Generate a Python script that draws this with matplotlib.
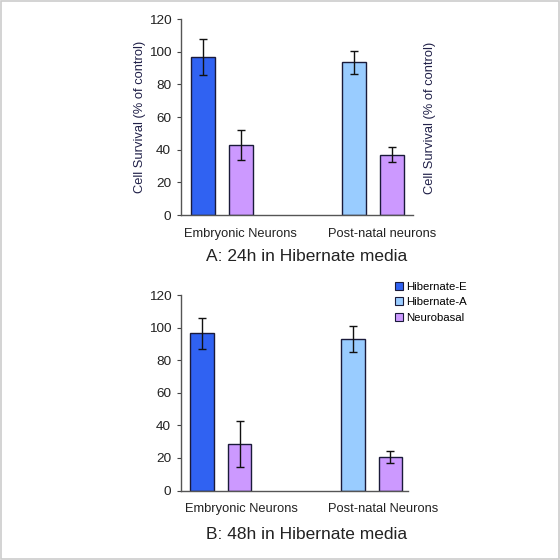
import matplotlib
matplotlib.use("Agg")
import matplotlib.pyplot as plt
from matplotlib.patches import Patch

plt.rcParams["font.family"] = ["Liberation Sans", "DejaVu Sans"]

# -------- data --------
SERIES = ["Hibernate-E", "Hibernate-A", "Neurobasal"]
COLORS = ["#3062F2", "#99CCFF", "#CC99FF"]

# panel A: 24h
A_GROUPS = ["Embryonic Neurons", "Post-natal neurons"]
A_SERIES = [["Hibernate-E", "Neurobasal"], ["Hibernate-A", "Neurobasal"]]
A_VALUES = [[97, 43], [93.5, 37]]
A_ERRORS = [[11, 9], [7, 4.5]]

# panel B: 48h
B_GROUPS = ["Embryonic Neurons", "Post-natal Neurons"]
B_SERIES = [["Hibernate-E", "Neurobasal"], ["Hibernate-A", "Neurobasal"]]
B_VALUES = [[96.5, 28.5], [93, 20.5]]
B_ERRORS = [[9.7, 14.3], [8, 3.6]]

YTICKS = [0, 20, 40, 60, 80, 100, 120]

# -------- layout --------
BAR_W = 0.157
PAIR_STEP = 0.25
EDGE = "#1a1a3a"
TXT = "#222222"
YLAB = "#202048"


def draw_panel(ax, groups, series, values, errors, label_pos, xlim):
    for g, name in enumerate(groups):
        for i, s in enumerate(series[g]):
            x = g + (i - 0.5) * PAIR_STEP
            ax.bar(x, values[g][i], width=BAR_W,
                   color=COLORS[SERIES.index(s)], edgecolor=EDGE, linewidth=1.0,
                   yerr=errors[g][i], capsize=3,
                   error_kw=dict(ecolor="#111111", elinewidth=1.0, capthick=1.0),
                   zorder=2)
    ax.set_xlim(*xlim)
    ax.set_ylim(0, 120)
    ax.set_yticks(YTICKS)
    ax.set_xticks(label_pos)
    ax.set_xticklabels(groups, fontsize=9.3, color=TXT)
    ax.tick_params(axis="x", length=0, pad=9)
    ax.tick_params(axis="y", length=3, width=0.8, color="#444444",
                   labelsize=9.7, labelcolor=TXT, pad=4)
    for side in ["top", "right"]:
        ax.spines[side].set_visible(False)
    for side in ["left", "bottom"]:
        ax.spines[side].set_color("#555555")
        ax.spines[side].set_linewidth(1.0)
    ax.spines["left"].set_bounds(0, 120)


fig = plt.figure(figsize=(5.6, 5.6), dpi=100)

# light frame round the picture
fig.patches.append(plt.Rectangle((0.002, 0.002), 0.996, 0.996, transform=fig.transFigure,
                                 fill=False, edgecolor="#cccccc", linewidth=1.2))

axA = fig.add_axes([0.323, 0.616, 0.414, 0.350])
draw_panel(axA, A_GROUPS, A_SERIES, A_VALUES, A_ERRORS, [0.12, 1.06], (-0.27, 1.26))
axA.set_ylabel("Cell Survival (% of control)", fontsize=9.3, color=YLAB, labelpad=2)
fig.text(0.767, 0.79, "Cell Survival (% of control)", rotation=90, fontsize=9.3,
         color=YLAB, ha="center", va="center")
fig.text(0.547, 0.542, "A: 24h in Hibernate media", fontsize=12.5, color=TXT,
         ha="center", va="center")

axB = fig.add_axes([0.323, 0.124, 0.405, 0.349])
draw_panel(axB, B_GROUPS, B_SERIES, B_VALUES, B_ERRORS, [0.14, 1.08], (-0.265, 1.24))
fig.text(0.547, 0.045, "B: 48h in Hibernate media", fontsize=12.5, color=TXT,
         ha="center", va="center")

handles = [Patch(facecolor=c, edgecolor=EDGE, linewidth=0.8) for c in COLORS]
fig.legend(handles, SERIES, loc="upper left", bbox_to_anchor=(0.705, 0.497),
           frameon=False, fontsize=8.2, handlelength=0.7, handleheight=0.7,
           handletextpad=0.3, labelspacing=0.5, borderaxespad=0, borderpad=0)

fig.savefig("out.png", dpi=100)
